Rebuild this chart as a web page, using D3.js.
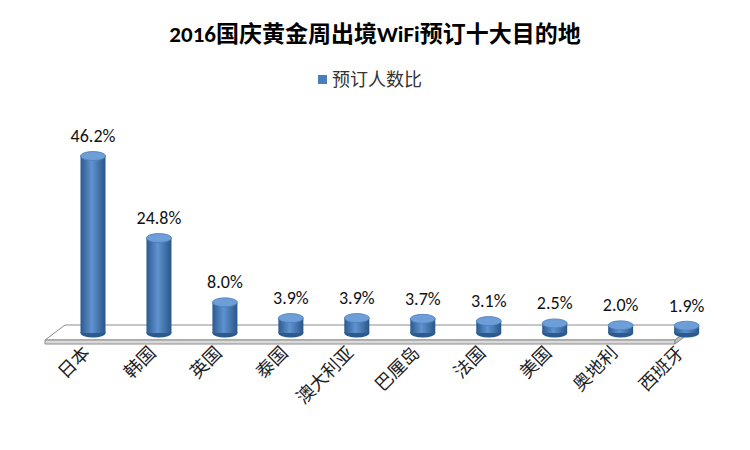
<!DOCTYPE html>
<html><head><meta charset="utf-8">
<script src="https://cdn.jsdelivr.net/npm/d3@7"></script>
<style>body{margin:0;background:#fff}text{font-family:Calibri,"Noto Sans CJK SC",sans-serif}</style>
</head><body><div id="chart"></div>
<script>
const data = [
	{ name: "日本", value: 46.2 },
	{ name: "韩国", value: 24.8 },
	{ name: "英国", value: 8.0 },
	{ name: "泰国", value: 3.9 },
	{ name: "澳大利亚", value: 3.9 },
	{ name: "巴厘岛", value: 3.7 },
	{ name: "法国", value: 3.1 },
	{ name: "美国", value: 2.5 },
	{ name: "奥地利", value: 2.0 },
	{ name: "西班牙", value: 1.9 },
];

const width = 750, height = 450;
const svg = d3.select("#chart").append("svg").attr("width", width).attr("height", height);

// gradient for the cylinder bodies
const defs = svg.append("defs");
const grad = defs.append("linearGradient").attr("id", "body").attr("x1", 0).attr("x2", 1);
grad.append("stop").attr("offset", "0%").attr("stop-color", "#2c5a8f");
grad.append("stop").attr("offset", "45%").attr("stop-color", "#5f93d0");
grad.append("stop").attr("offset", "100%").attr("stop-color", "#2a5687");

svg.append("text").attr("x", 375).attr("y", 42).attr("text-anchor", "middle")
	.attr("font-size", 23).attr("font-weight", "bold").text("2016国庆黄金周出境WiFi预订十大目的地");

// legend
svg.append("rect").attr("x", 318).attr("y", 75).attr("width", 9).attr("height", 9).attr("fill", "#4a7ebb");
svg.append("text").attr("x", 332).attr("y", 86).attr("font-size", 18).attr("fill", "#333").text("预订人数比");

const x = d3.scaleBand().domain(data.map((d) => d.name)).range([62, 682]).paddingInner(0.6).paddingOuter(0);
const y = d3.scaleLinear().domain([0, 46.2]).range([333, 156]);

// floor
svg.append("polygon")
	.attr("points", "45,340 675,340 695,325 65,325")
	.attr("fill", "#fff").attr("stroke", "#8c8c8c").attr("stroke-width", 1);
svg.append("polygon")
	.attr("points", "45,340 675,340 675,344 45,344")
	.attr("fill", "#d9d9d9").attr("stroke", "#8c8c8c").attr("stroke-width", 1);
svg.append("polygon")
	.attr("points", "675,340 695,325 695,329 675,344")
	.attr("fill", "#bfbfbf").attr("stroke", "#8c8c8c").attr("stroke-width", 1);

const rx = 12.5, ry = 4.5;
const bar = svg.selectAll("g.bar").data(data).enter().append("g").attr("class", "bar")
	.attr("transform", (d, i) => `translate(${62 + 31 + i * x.step()},0)`);

bar.append("ellipse").attr("cx", 0).attr("cy", y(0)).attr("rx", rx).attr("ry", ry).attr("fill", "#2c5a8f");
bar.append("rect").attr("x", -rx).attr("y", (d) => y(d.value)).attr("width", rx * 2)
	.attr("height", (d) => y(0) - y(d.value)).attr("fill", "url(#body)");
bar.append("ellipse").attr("cx", 0).attr("cy", (d) => y(d.value)).attr("rx", rx).attr("ry", ry)
	.attr("fill", "#6d9ed8").attr("stroke", "#4a7ebb").attr("stroke-width", 0.8);

bar.append("text").attr("y", (d) => y(d.value) - 14).attr("text-anchor", "middle")
	.attr("font-size", 18).attr("fill", "#111").text((d) => d.value.toFixed(1) + "%");

bar.append("text").attr("text-anchor", "end").attr("font-size", 18).attr("fill", "#222")
	.attr("transform", "translate(-2,354) rotate(-45)").text((d) => d.name);
</script></body></html>
